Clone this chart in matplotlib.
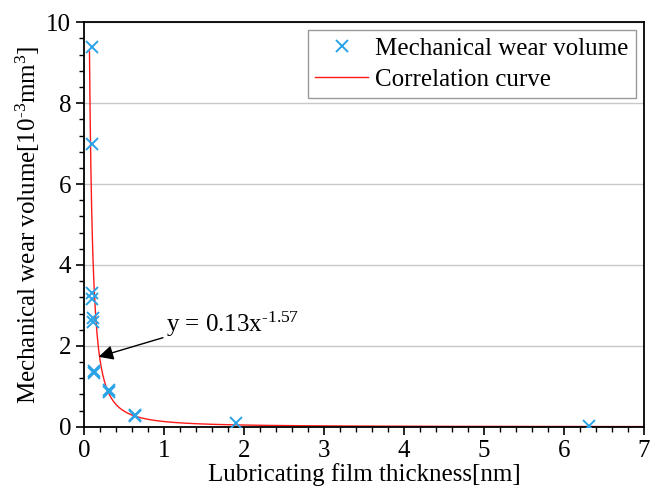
import numpy as np
import matplotlib
matplotlib.use('Agg')
import matplotlib.pyplot as plt
from matplotlib.ticker import MultipleLocator

plt.rcParams['font.family'] = ['Liberation Serif', 'DejaVu Serif']
plt.rcParams['mathtext.fontset'] = 'custom'
plt.rcParams['mathtext.rm'] = 'Liberation Serif'
plt.rcParams['mathtext.it'] = 'Liberation Serif'

# measured points
espessura = [0.10, 0.10, 0.10, 0.10, 0.11, 0.11, 0.12, 0.12, 0.31, 0.31, 0.64, 0.64, 1.90, 6.31]
desgaste = [9.38, 7.00, 3.30, 3.15, 2.68, 2.60, 1.38, 1.33, 0.92, 0.85, 0.30, 0.26, 0.10, 0.02]

# fitted curve y = a * x^b
coef_a = 0.13
coef_b = -1.57

fig = plt.figure(figsize=(6.63, 4.94), dpi=100)
ax = fig.add_axes([0.127, 0.136, 0.844, 0.819])

x_curva = np.linspace(0.066, 7, 800)
y_curva = coef_a * x_curva ** coef_b

ax.plot(espessura, desgaste, linestyle='none', marker='x', color='#29a3e6',
        markersize=8, markeredgewidth=1.4, label='Mechanical wear volume', zorder=3)
ax.plot(x_curva, y_curva, color='#ff1a1a', linewidth=1.0, label='Correlation curve', zorder=2)

ax.set_xlim(0, 7)
ax.set_ylim(0, 10)
ax.xaxis.set_major_locator(MultipleLocator(1))
ax.xaxis.set_minor_locator(MultipleLocator(0.2))
ax.yaxis.set_major_locator(MultipleLocator(2))
ax.yaxis.set_minor_locator(MultipleLocator(0.4))
ax.tick_params(which='major', direction='out', length=6, width=1.2, labelsize=18)
ax.tick_params(which='minor', direction='out', length=3.5, width=1.0)
ax.grid(axis='y', which='major', color='#c8c8c8', linewidth=1.0)
ax.set_axisbelow(True)
for s in ax.spines.values():
    s.set_linewidth(1.3)

ax.set_xlabel('Lubricating film thickness[nm]', fontsize=18, labelpad=1)
ax.set_ylabel(r'Mechanical wear volume[10$^{\text{-}3}$mm$^{3}$]', fontsize=18, labelpad=3)

ax.annotate(r'y = 0.13x$^{\text{-}1.57}$', xy=(0.18, 1.73), xytext=(1.02, 2.17),
            fontsize=18, ha='left', va='bottom',
            arrowprops=dict(arrowstyle='-|>', color='black', lw=1.0,
                            mutation_scale=22, shrinkA=0, shrinkB=0,
                            relpos=(0.02, 0.1)),
            )

leg = ax.legend(loc='upper right', fontsize=18, frameon=True, fancybox=False,
                handlelength=2.1, borderpad=0.3, labelspacing=0.35,
                handletextpad=0.3, borderaxespad=0.3)
leg.get_frame().set_edgecolor('#808080')
leg.get_frame().set_linewidth(1.0)

fig.savefig('out.png', dpi=100)
